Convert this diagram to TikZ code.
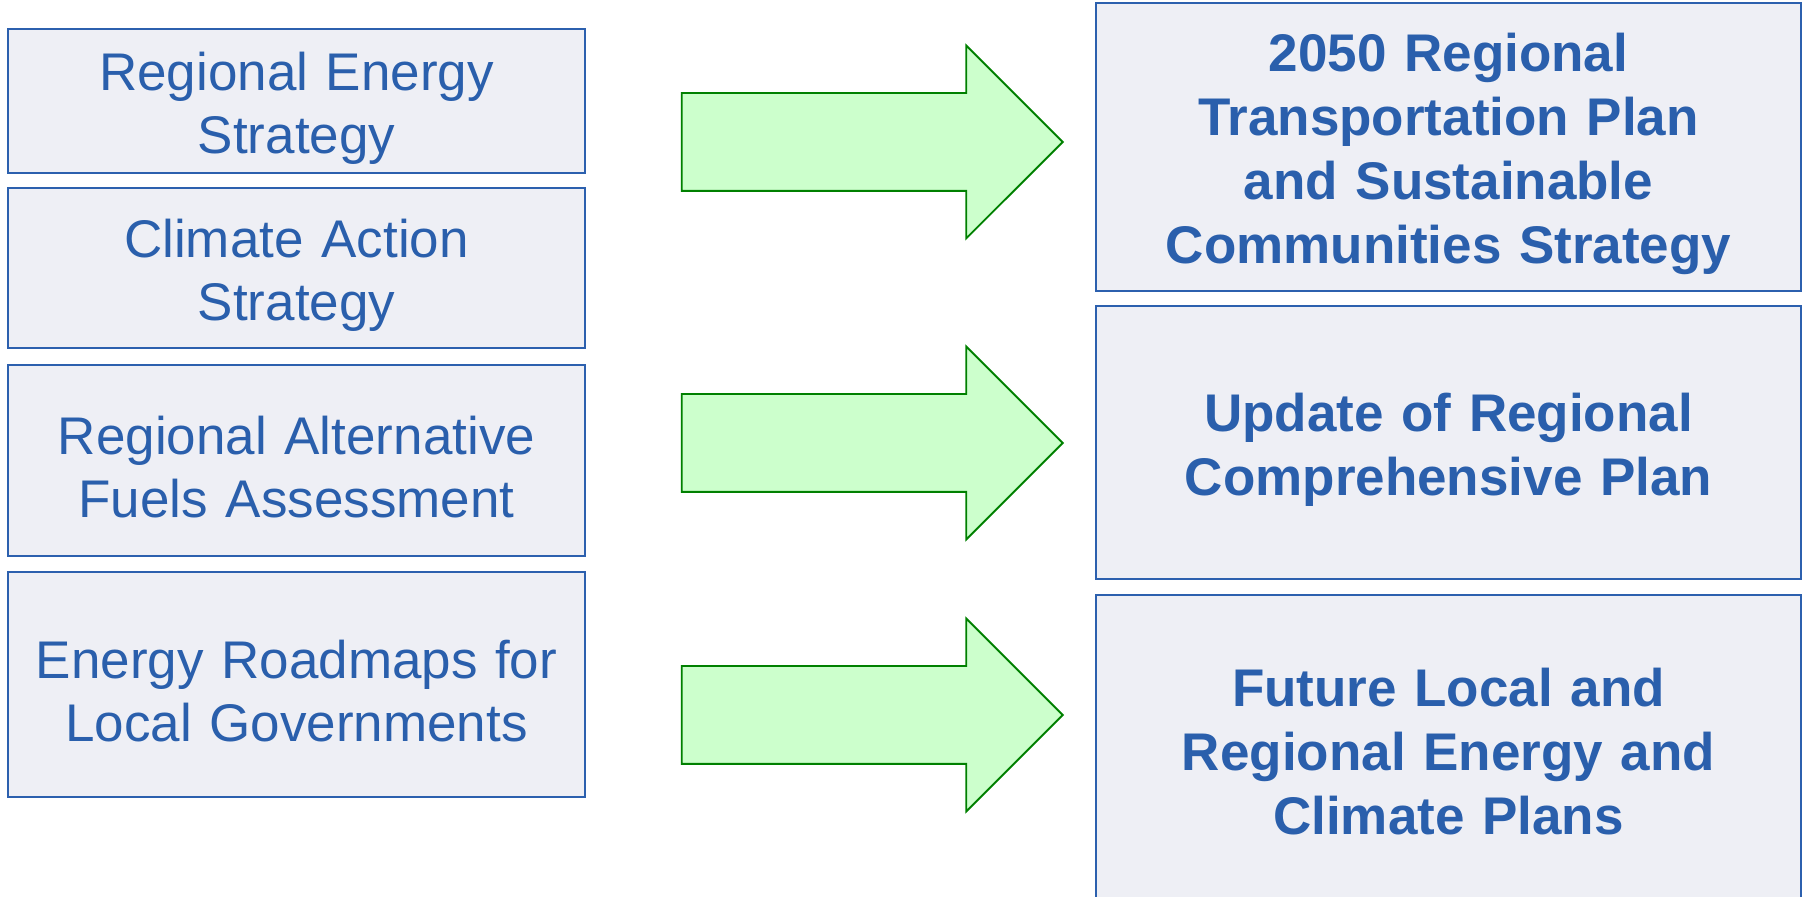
\documentclass[tikz,border=0pt]{standalone}
\usepackage{fontspec}
\setmainfont{Liberation Sans}
\usepackage{tikz}
\usetikzlibrary{shapes,arrows,positioning}
\definecolor{textblue}{HTML}{2A5FAC}
\definecolor{edgeblue}{HTML}{2C60AE}
\definecolor{boxfill}{HTML}{EEEFF5}
\definecolor{arrowfill}{HTML}{CCFFCC}
\definecolor{arrowedge}{HTML}{008000}
\newcommand{\droptext}[1][7pt]{\par\vspace*{-#1}}
\tikzstyle{source} = [rectangle, draw=edgeblue, fill=boxfill, line width=1.2pt, outer sep=0pt,
text=textblue, text width=280pt, inner xsep=4.25pt, align=center,
execute at end node=\droptext,
font=\fontsize{26.5}{31.5}\selectfont]
\tikzstyle{target} = [rectangle, draw=edgeblue, fill=boxfill, line width=1.2pt, outer sep=0pt,
text=textblue, text width=344pt, inner xsep=4.25pt, align=center,
execute at end node=\droptext,
font=\bfseries\fontsize{26.5}{32}\selectfont]
\tikzstyle{flow} = [single arrow, draw=arrowedge, fill=arrowfill, line width=0.9pt, anchor=tip,
minimum height=190.5pt, inner xsep=0pt, inner ysep=24pt, single arrow head extend=23.75pt]

\begin{document}
\begin{tikzpicture}[x=0.5pt, y=-0.5pt]
	\clip (0,0) rectangle (1806,897);
	
	% Left column: studies
	\node [source, minimum height=72pt] (res) at (296.5,101) {Regional Energy\\Strategy};
	\node [source, minimum height=80pt, below=7.5pt of res] (cas) {Climate Action\\Strategy};
	\node [source, minimum height=95.5pt, below=8.5pt of cas] (rafa) {Regional Alternative\\Fuels Assessment};
	\node [source, minimum height=112.5pt, below=8pt of rafa] (roadmaps) {Energy Roadmaps for\\Local Governments};
	
	% Right column: plans (last box runs past the bottom edge)
	\node [target, minimum height=144pt] (rtp) at (1448.5,147) {2050 Regional\\Transportation Plan\\and Sustainable\\Communities Strategy};
	\node [target, minimum height=136.5pt, below=7.5pt of rtp] (rcp) {Update of Regional\\Comprehensive Plan};
	\node [target, minimum height=154pt, below=8pt of rcp,
	execute at end node={\vspace*{4.4pt}}] (future) {Future Local and\\Regional Energy and\\Climate Plans};
	
	% Block arrows
	\node [flow] (arr1) at (1064,142) {};
	\node [flow] (arr2) at (1064,443) {};
	\node [flow] (arr3) at (1064,715) {};
	
\end{tikzpicture}
\end{document}
